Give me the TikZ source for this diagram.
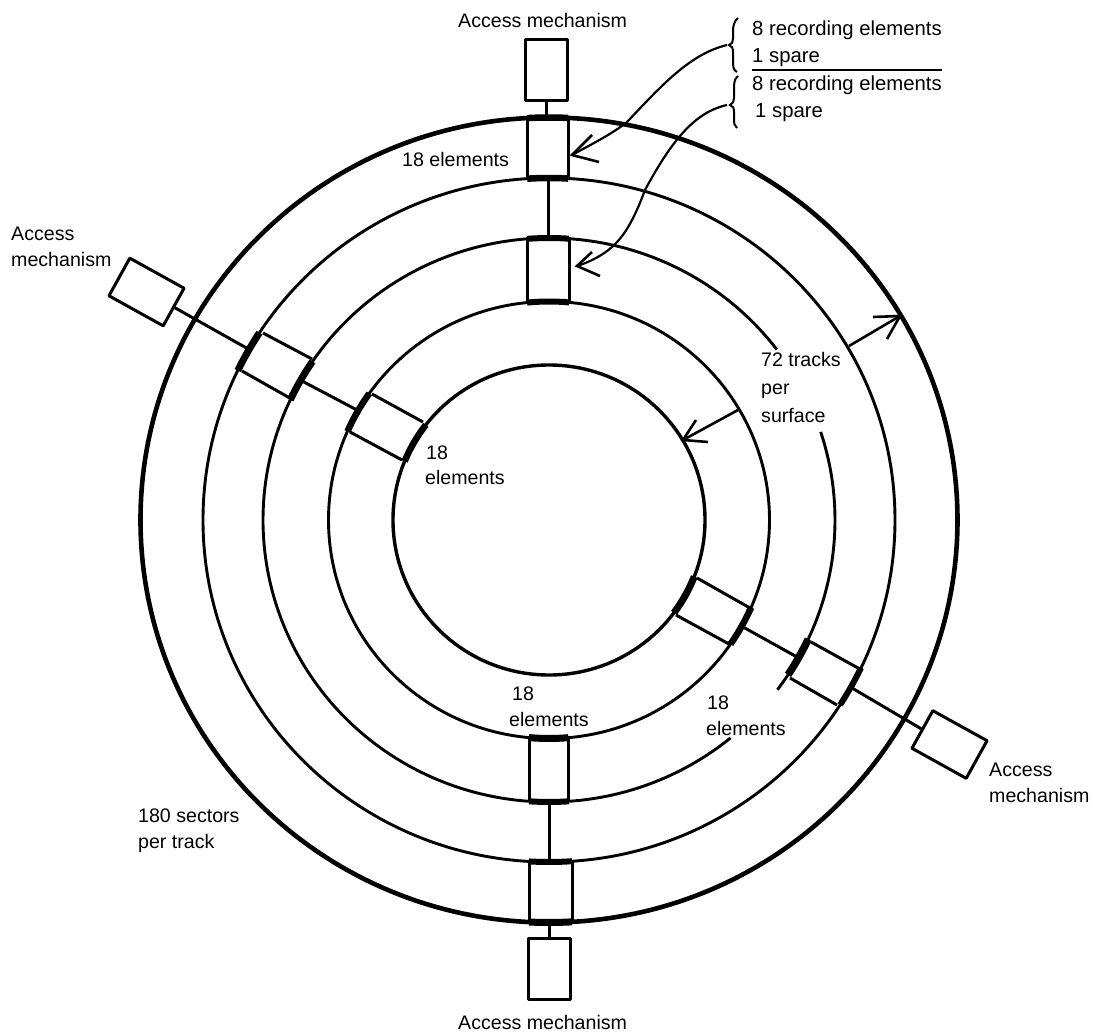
\documentclass[tikz,border=0pt]{standalone}
\usepackage{fontspec}
\setmainfont{Liberation Sans}
\newcommand{\cx}{549}
\newcommand{\cy}{520}
\newcommand{\ringarc}[5][thin ring]{\draw[#1] plot[domain=#4:#5,samples=60,smooth] ({\cx+#2*cos(\x)},{\cy+#3*sin(\x)});}
\newcommand{\ringcap}[5]{\draw[line width=#5,line cap=butt] plot[domain=#3:#4,samples=8,smooth] ({\cx+#1*cos(\x)},{\cy+#2*sin(\x)});}
\tikzset{
  thin ring/.style={line width=2.9pt},
  outer ring/.style={line width=4.6pt},
  link/.style={line width=3pt},
  armbox/.style={draw,line width=3pt,rectangle,inner sep=0pt,line join=round},
  lab/.style={anchor=base west,inner sep=0pt,font=\fontsize{19.6}{22}\selectfont},
  labwide/.style={lab,font=\fontsize{20.3}{22}\selectfont},
  barb/.style={line width=2.6pt,line join=miter},
  curve/.style={line width=2.2pt},
}
\begin{document}
\begin{tikzpicture}[x=1pt,y=-1pt]
\useasboundingbox (0,0) rectangle (1093,1032);
% rings
\draw[outer ring] (\cx,\cy) ellipse [x radius=408.5,y radius=402.5];
\draw[thin ring] (\cx,\cy) ellipse [x radius=346,y radius=342];
\ringarc{286}{282}{-18.2}{37}
\draw[thin ring] plot[domain=50.6:322.8,samples=160,smooth] ({\cx+286*cos(\x)},{\cy+282*sin(\x)});
\draw[thin ring] (\cx,\cy) ellipse [x radius=220.5,y radius=218.5];
\draw[line width=3.4pt] (\cx,\cy) ellipse [x radius=156,y radius=155];
% top heads
\ringcap{408.5}{402.5}{-93.1}{-87.3}{6.5pt}
\ringcap{346}{342}{-93.6}{-86.8}{6.5pt}
\ringcap{286}{282}{-94.4}{-86}{6pt}
\ringcap{220.5}{218.5}{-95.7}{-84.8}{6pt}
% bottom heads
\ringcap{220.5}{218.5}{85}{95.2}{7pt}
\ringcap{286}{282}{86}{94}{6pt}
\ringcap{346}{342}{86.2}{93.3}{6pt}
\ringcap{408.5}{402.5}{86.8}{92.8}{7pt}
% upper-left heads
\ringcap{346}{342}{205.9}{213.2}{7pt}
\ringcap{286}{282}{205.2}{214.2}{7pt}
\ringcap{220.5}{218.5}{203.9}{215.4}{6.5pt}
\ringcap{156}{155}{202.2}{217.9}{6.5pt}
% lower-right heads
\ringcap{156}{155}{21.4}{36.8}{7pt}
\ringcap{220.5}{218.5}{23.6}{34.6}{6.5pt}
\ringcap{286}{282}{25}{33.3}{7.5pt}
\ringcap{346}{342}{25.6}{32.7}{6pt}
% access boxes
\node[armbox,minimum width=42pt,minimum height=61pt] (acctop) at (546,70) {};
\node[armbox,minimum width=42pt,minimum height=61pt] (accbot) at (549,968.5) {};
\node[armbox,minimum width=62pt,minimum height=43pt,rotate=-29] (accleft) at (146.5,292) {};
\node[armbox,minimum width=62pt,minimum height=43pt,rotate=-29] (accright) at (949.5,744.5) {};
% head side coordinates
\coordinate (ta1) at (527,117); \coordinate (ta2) at (527,178);
\coordinate (tb1) at (568,117); \coordinate (tb2) at (568,178);
\coordinate (tc1) at (527,237); \coordinate (tc2) at (527,302);
\coordinate (td1) at (569,237); \coordinate (td2) at (569,302);
\coordinate (ba1) at (529,739); \coordinate (ba2) at (529,801);
\coordinate (bb1) at (568,739); \coordinate (bb2) at (568,801);
\coordinate (bc1) at (529,862); \coordinate (bc2) at (529,922);
\coordinate (bd1) at (572,862); \coordinate (bd2) at (572,922);
\coordinate (la1) at (263,333); \coordinate (la2) at (312,359);
\coordinate (lb1) at (242,371); \coordinate (lb2) at (288,397);
\coordinate (lc1) at (372,394); \coordinate (lc2) at (423,422);
\coordinate (ld1) at (350,432); \coordinate (ld2) at (402,460);
\coordinate (ra1) at (697,578); \coordinate (ra2) at (750,608);
\coordinate (rb1) at (676,615); \coordinate (rb2) at (729,644);
\coordinate (rc1) at (811,642); \coordinate (rc2) at (858,668);
\coordinate (rd1) at (790,678); \coordinate (rd2) at (837,705);
\foreach \p in {ta,tb,tc,td,ba,bb,bc,bd,la,lb,lc,ld,ra,rb,rc,rd}
  \draw[link] (\p1) -- (\p2);
% arm connectors
\coordinate (t0) at (546,117); \coordinate (t1) at (548,178); \coordinate (t2) at (548,237);
\coordinate (b1) at (549,801); \coordinate (b2) at (549,862); \coordinate (b3) at (549,922);
\coordinate (l1) at (250,350); \coordinate (l2) at (302,381); \coordinate (l3) at (357,410);
\coordinate (r1) at (743,627); \coordinate (r2) at (797,657); \coordinate (r3) at (852,688);
\draw[link] (acctop.south) -- (t0);
\draw[link] (t1) -- (t2);
\draw[link] (b1) -- (b2);
\draw[link] (b3) -- (accbot.north);
\draw[link] (accleft.east) -- (l1);
\draw[link] (l2) -- (l3);
\draw[link] (r1) -- (r2);
\draw[link] (r3) -- (accright.west);
% braces
\draw[line width=2pt] (738,18) .. controls (734,21) and (733,26) .. (733,32) -- (733,39) .. controls (733,42) and (732,44) .. (729,45) .. controls (732,46) and (733,48) .. (733,52) -- (733,60) .. controls (733,66) and (733,70) .. (737,72);
\draw[line width=2pt] (738,76) .. controls (734,79) and (734,84) .. (734,90) -- (734,98) .. controls (734,101) and (733,104) .. (730,105) .. controls (733,106) and (734,108) .. (734,112) -- (734,118) .. controls (734,123) and (734,126) .. (737,128);
\coordinate (rule1) at (752,70); \coordinate (rule2) at (942,70);
\draw[line width=1.8pt] (rule1) -- (rule2);
% curved leaders
\coordinate (c1s) at (727,45); \coordinate (c1t) at (572,155);
\coordinate (c2s) at (727,105); \coordinate (c2t) at (577,266);
\draw[curve] (c1s) .. controls (690,54) and (662,85) .. (627,122) .. controls (612,134) and (592,144) .. (c1t);
\draw[curve] (c2s) .. controls (695,112) and (672,140) .. (645,190) .. controls (632,225) and (622,238) .. (612,247) .. controls (603,255) and (590,262) .. (c2t);
\draw[barb] (592,135) -- (c1t) -- (599,162);
\draw[barb] (592,252) -- (c2t) -- (600,276);
% track arrows
\coordinate (a1s) at (849,346); \coordinate (a1t) at (900,316);
\coordinate (a2s) at (738,410); \coordinate (a2t) at (683,440);
\draw[barb] (a1s) -- (a1t);
\draw[barb] (873,317) -- (a1t) -- (887,339);
\draw[barb] (a2s) -- (a2t);
\draw[barb] (696,420) -- (a2t) -- (708,442);
% labels
\node[lab] (t1a) at (458,28) {Access mechanism};
\node[labwide] (t2a) at (752,36) {8 recording elements};
\node[labwide] (t2b) at (752,63) {1 spare};
\node[labwide] (t2c) at (752,91) {8 recording elements};
\node[labwide] (t2d) at (755,118) {1 spare};
\node[lab] (t3) at (402,167) {18 elements};
\node[lab] (t4a) at (11,241) {Access};
\node[lab] (t4b) at (11,267) {mechanism};
\node[lab] (t5a) at (426,459) {18};
\node[lab] (t5b) at (425,484) {elements};
\node[lab] (t6a) at (761,367) {72 tracks};
\node[lab] (t6b) at (761,395) {per};
\node[lab] (t6c) at (761,422) {surface};
\node[lab] (t7a) at (512,700) {18};
\node[lab] (t7b) at (509,726) {elements};
\node[lab] (t8a) at (707,709) {18};
\node[lab] (t8b) at (706,735) {elements};
\node[lab] (t9a) at (989,776) {Access};
\node[lab] (t9b) at (989,802) {mechanism};
\node[lab] (t10a) at (138,822) {180 sectors};
\node[lab] (t10b) at (138,848) {per track};
\node[lab] (t11) at (458,1029) {Access mechanism};
\end{tikzpicture}
\end{document}
